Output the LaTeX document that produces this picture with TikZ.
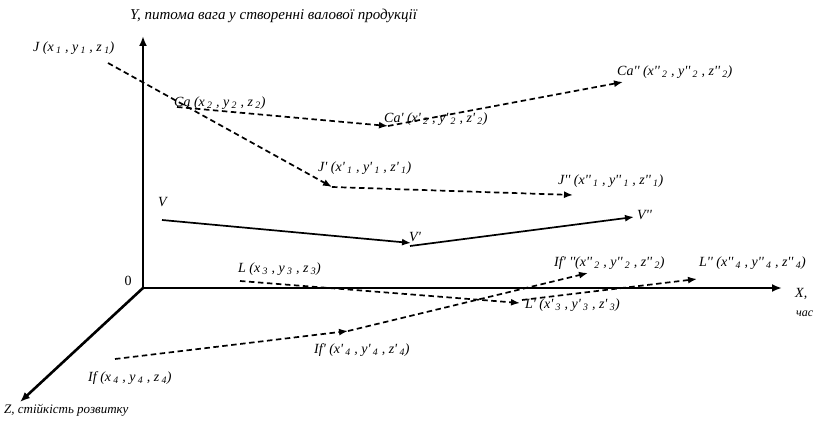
\documentclass[tikz,border=0pt]{standalone}
\usepackage{fontspec}
\setmainfont{Liberation Serif}[Ligatures=TeXOff]
\usetikzlibrary{arrows.meta}
\newcommand{\lo}[1]{\,\textsubscript{#1}}
\tikzset{
  axis/.style={line width=2.6pt,-{Latex[length=10pt,width=8pt]}},
  dline/.style={line width=1.7pt,dash pattern=on 5.5pt off 3.5pt,-{Latex[length=9pt,width=7pt]}},
  sline/.style={line width=1.7pt,-{Latex[length=9pt,width=7pt]}},
  lbl/.style={font=\itshape\fontsize{14}{16}\selectfont,inner sep=0pt,anchor=west}
}
\begin{document}
\begin{tikzpicture}[x=1pt,y=-1pt]
\useasboundingbox (0,0) rectangle (817,425);
% axes
\coordinate (O) at (143,288);
\coordinate (Yt) at (143,36);
\coordinate (Xt) at (782,288);
\coordinate (Zt) at (20,402);
\draw[axis] (O) -- (Yt);
\draw[axis] (O) -- (Xt);
\draw[axis] (O) -- (Zt);
% points
\coordinate (J0) at (108,63);
\coordinate (J1) at (332,187);
\coordinate (J2) at (573,195);
\coordinate (C0) at (177,107);
\coordinate (C1) at (388,126);
\coordinate (C2) at (623,82);
\coordinate (V0) at (162,220);
\coordinate (V1) at (411,243);
\coordinate (V1b) at (410,246);
\coordinate (V2) at (634,217);
\coordinate (L0) at (240,281);
\coordinate (L1) at (520,303);
\coordinate (L1b) at (522,300);
\coordinate (L2) at (697,279);
\coordinate (F0) at (115,359);
\coordinate (F1) at (348,331);
\coordinate (F2) at (588,273);
\draw[dline] (J0) -- (J1);
\draw[dline] (J1) -- (J2);
\draw[dline] (C0) -- (C1);
\draw[dline] (C1) -- (C2);
\draw[sline] (V0) -- (V1);
\draw[sline] (V1b) -- (V2);
\draw[dline] (L0) -- (L1);
\draw[dline] (L1b) -- (L2);
\draw[dline] (F0) -- (F1);
\draw[dline] (F1) -- (F2);
% labels
\node[lbl,font=\itshape\fontsize{15}{17}\selectfont] (ylab) at (130,16) {Y, питома вага у створенні валової продукції};
\node[lbl] (jl) at (33,48) {J (x\lo{1} , y\lo{1} , z\lo{1})};
\node[lbl] (cal) at (174,103) {Ca (x\lo{2} , y\lo{2} , z\lo{2})};
\node[lbl] (ca1l) at (384,119) {Ca' (x'\lo{2} , y'\lo{2} , z'\lo{2})};
\node[lbl] (ca2l) at (617,72) {Ca'' (x''\lo{2} , y''\lo{2} , z''\lo{2})};
\node[lbl] (j1l) at (318,168) {J' (x'\lo{1} , y'\lo{1} , z'\lo{1})};
\node[lbl] (j2l) at (558,181) {J'' (x''\lo{1} , y''\lo{1} , z''\lo{1})};
\node[lbl] (vl) at (158,202) {V};
\node[lbl] (v1l) at (409,237) {V'};
\node[lbl] (v2l) at (637,215) {V''};
\node[lbl] (ll) at (238,269) {L (x\lo{3} , y\lo{3} , z\lo{3})};
\node[lbl] (l1l) at (525,305) {L' (x'\lo{3} , y'\lo{3} , z'\lo{3})};
\node[lbl] (f2l) at (554,263) {If' ''(x''\lo{2} , y''\lo{2} , z''\lo{2})};
\node[lbl] (l2l) at (699,263) {L'' (x''\lo{4} , y''\lo{4} , z''\lo{4})};
\node[lbl] (fl) at (88,378) {If (x\lo{4} , y\lo{4} , z\lo{4})};
\node[lbl] (f1l) at (314,350) {If' (x'\lo{4} , y'\lo{4} , z'\lo{4})};
\node[font=\fontsize{14}{16}\selectfont,inner sep=0pt] (zero) at (128,281) {0};
\node[lbl] (xl) at (795,294) {X,};
\node[lbl,font=\itshape\fontsize{12}{14}\selectfont] (xl2) at (796,314) {час};
\node[lbl,font=\itshape\fontsize{13}{15}\selectfont] (zl) at (4,410) {Z, стійкість розвитку};
\end{tikzpicture}
\end{document}
